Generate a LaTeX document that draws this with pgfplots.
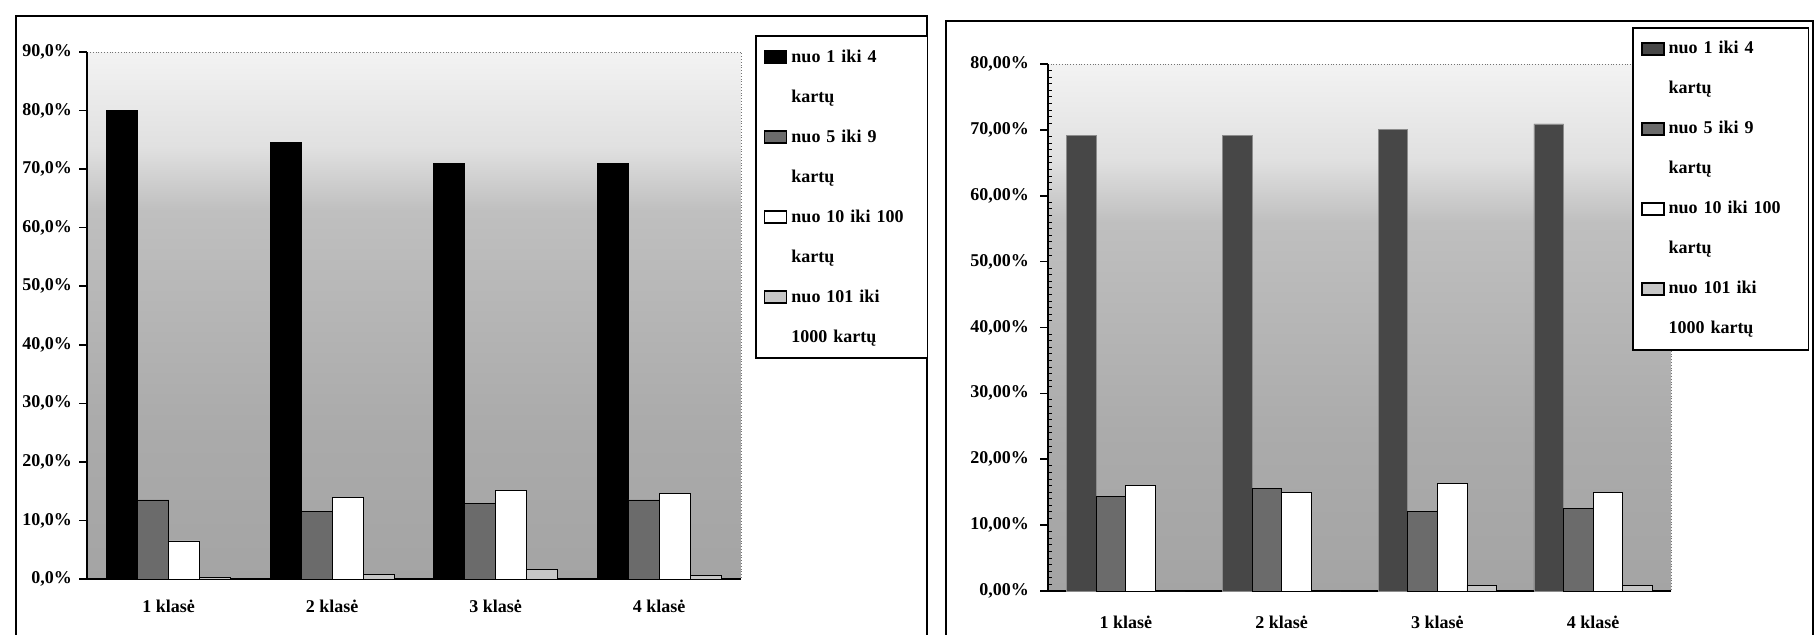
\documentclass[border=0pt]{standalone}
\usepackage{pgfplots}
\pgfplotsset{compat=1.18}
\usepackage{fontspec}
\setmainfont{Liberation Serif}

% stippled plot-area background: grey at the bottom, almost white at the top
\pgfdeclareverticalshading{plotbg}{100bp}{color(0bp)=(black!40); color(40bp)=(black!33); color(60bp)=(black!25); color(66bp)=(black!12); color(76bp)=(black!4); color(100bp)=(white)}

\pgfplotsset{
  scan/.style={
    scale only axis,
    height=263.5pt,
    xmin=0.5, xmax=4.5,
    ymin=0,
    axis x line*=bottom,
    axis y line*=left,
    axis line style={black, line width=1.2pt},
    axis background/.style={shading=plotbg, draw=black!55, densely dotted},
    xtick={1,2,3,4},
    xticklabels={1 klasė,2 klasė,3 klasė,4 klasė},
    major x tick style={draw=none},
    tick align=outside,
    major tick length=4pt,
    tick style={black, line width=0.8pt},
    ticklabel style={font=\fontsize{9}{10}\selectfont\bfseries},
    bar width=0.19,
    ybar,
    area legend,
    legend image code/.code={\draw[#1, line width=0.8pt] (0pt,-3pt) rectangle (11pt,3pt);},
    legend cell align=left,
    legend style={draw=black, line width=0.9pt, fill=white,
      font=\fontsize{9}{10}\selectfont\bfseries,
      nodes={inner sep=2pt, text height=7pt, text depth=2pt},
      row sep=7pt, inner sep=4pt, anchor=north west},
  },
}

% legend: every class of count takes two lines
\newcommand\scanlegend[2]{%
  \addlegendimage{#1, draw=black}\addlegendentry{nuo 1 iki 4}
  \addlegendimage{empty legend}\addlegendentry{kartų}
  \addlegendimage{#2, draw=black}\addlegendentry{nuo 5 iki 9}
  \addlegendimage{empty legend}\addlegendentry{kartų}
  \addlegendimage{fill=white, draw=black}\addlegendentry{nuo 10 iki 100}
  \addlegendimage{empty legend}\addlegendentry{kartų}
  \addlegendimage{fill=black!22, draw=black}\addlegendentry{nuo 101 iki}
  \addlegendimage{empty legend}\addlegendentry{1000 kartų}
}

\pgfplotstableread{
x  a     b     c     d
1  80.0  13.5  6.5   0.3
2  74.5  11.5  14.0  0.8
3  71.0  12.9  15.2  1.6
4  71.0  13.5  14.6  0.6
}\lefttab

\pgfplotstableread{
x  a     b     c     d
1  69.1  14.4  16.0  0.0
2  69.1  15.6  14.9  0.0
3  70.0  12.1  16.3  0.9
4  70.9  12.6  14.9  0.9
}\righttab

\begin{document}
\begin{tikzpicture}
\clip (0,0) rectangle (908pt,317pt);
% outer frames of the two charts
\draw[line width=1.3pt] (8pt,-10pt) rectangle (463.5pt,309pt);
\draw[line width=1.3pt] (473pt,-10pt) rectangle (906.5pt,306.5pt);

\begin{axis}[scan,
  at={(43.5pt,27.5pt)}, anchor=south west,
  width=327pt,
  ymax=90,
  ytick={0,10,...,90},
  yticklabels={{0,0\%},{10,0\%},{20,0\%},{30,0\%},{40,0\%},{50,0\%},{60,0\%},{70,0\%},{80,0\%},{90,0\%}},
  xticklabel style={yshift=-3pt},
  legend style={at={(1.0214,1.032)}, nodes={text width=62pt}},
]
\addplot[fill=black, draw=black, bar shift=-0.285, forget plot] table[x=x, y=a] {\lefttab};
\addplot[fill=black!58, draw=black, bar shift=-0.095, forget plot] table[x=x, y=b] {\lefttab};
\addplot[fill=white, draw=black, bar shift=0.095, forget plot] table[x=x, y=c] {\lefttab};
\addplot[fill=black!22, draw=black, bar shift=0.285, forget plot] table[x=x, y=d] {\lefttab};
\scanlegend{fill=black}{fill=black!58}
\end{axis}

\begin{axis}[scan,
  at={(524pt,21.5pt)}, anchor=south west,
  width=311.5pt,
  ymax=80,
  ytick={0,10,...,80},
  yticklabels={{0,00\%},{10,00\%},{20,00\%},{30,00\%},{40,00\%},{50,00\%},{60,00\%},{70,00\%},{80,00\%}},
  minor y tick num=9,
  minor tick length=2pt,
  minor y tick style={/pgfplots/tick align=inside, line width=0.5pt},
  yticklabel style={xshift=-2pt},
  xticklabel style={yshift=-5pt},
  legend style={at={(0.9374,1.0702)}, nodes={text width=64pt}},
]
\addplot[fill=black!72, draw=black!45, bar shift=-0.285, forget plot] table[x=x, y=a] {\righttab};
\addplot[fill=black!58, draw=black, bar shift=-0.095, forget plot] table[x=x, y=b] {\righttab};
\addplot[fill=white, draw=black, bar shift=0.095, forget plot] table[x=x, y=c] {\righttab};
\addplot[fill=black!22, draw=black, bar shift=0.285, forget plot] table[x=x, y=d] {\righttab};
\scanlegend{fill=black!72}{fill=black!58}
\end{axis}
\end{tikzpicture}
\end{document}
